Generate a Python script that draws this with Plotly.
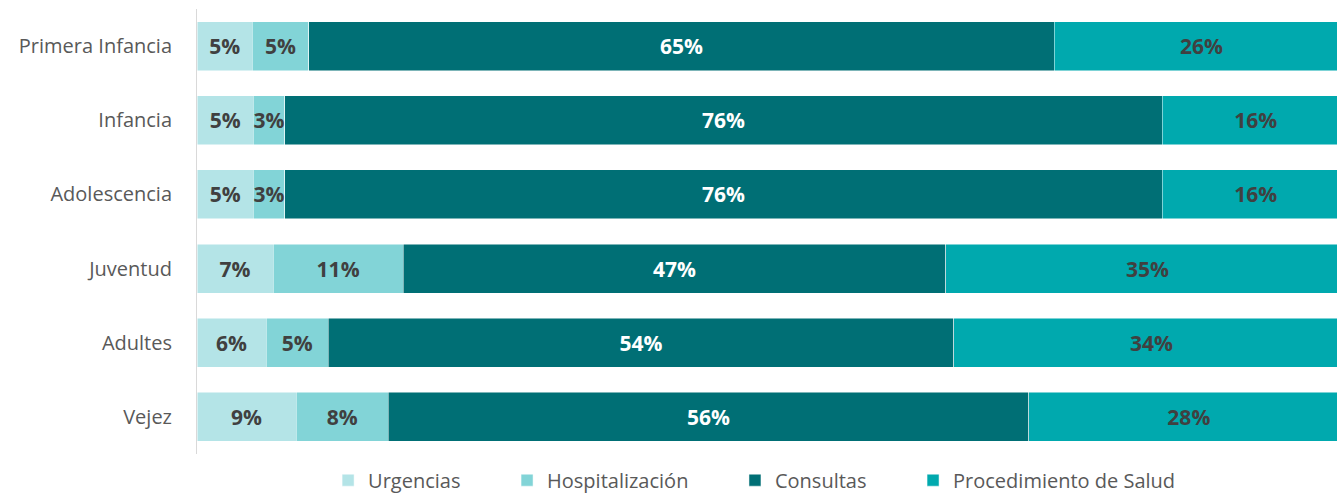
import plotly.graph_objects as go

categories = ["Primera Infancia", "Infancia", "Adolescencia", "Juventud", "Adultes", "Vejez"]
series_names = ["Urgencias", "Hospitalización", "Consultas", "Procedimiento de Salud"]
urgencias = [0.048, 0.049, 0.049, 0.066, 0.060, 0.086]
hospitalizacion = [0.049, 0.027, 0.027, 0.113, 0.054, 0.080]
consultas = [0.647, 0.762, 0.762, 0.471, 0.543, 0.556]
procedimiento = [0.256, 0.162, 0.162, 0.350, 0.343, 0.278]

colors = ["#B4E4E7", "#82D4D7", "#006F75", "#00A9AE"]
text_colors = ["#404040", "#404040", "#FFFFFF", "#404040"]
series_values = [urgencias, hospitalizacion, consultas, procedimiento]

FONT = "Open Sans"
PAD = "\u00a0" * 8

fig = go.Figure()
for i, (name, vals) in enumerate(zip(series_names, series_values)):
    fig.add_trace(go.Bar(
        y=categories, x=vals, orientation="h",
        name=name + (PAD if i < 3 else ""),
        marker=dict(color=colors[i], line=dict(color="rgba(255,255,255,0.7)", width=0.7)),
        texttemplate="%{x:.0%}",
        textposition="inside", insidetextanchor="middle", textangle=0,
        constraintext="none",
        textfont=dict(family=FONT, size=21, color=text_colors[i], weight="bold"),
        hoverinfo="skip",
    ))

fig.update_layout(
    barmode="stack",
    bargap=0.34,
    width=1337, height=497,
    margin=dict(l=197, r=0, t=9, b=43, autoexpand=False),
    paper_bgcolor="white", plot_bgcolor="white",
    font=dict(family=FONT, color="#595959", size=20),
    showlegend=True,
    legend=dict(orientation="h", x=0.115, xanchor="left", y=-0.015, yanchor="top",
                font=dict(family=FONT, size=20, color="#595959"),
                traceorder="normal", itemclick=False),
)
fig.update_xaxes(range=[0, 1140 / 1152], visible=False, showgrid=False, zeroline=False, fixedrange=True)
fig.update_yaxes(autorange="reversed", showline=True, linecolor="#D9D9D9", linewidth=1,
                 showgrid=False, ticks="", ticklabelstandoff=20,
                 tickfont=dict(family=FONT, size=20, color="#595959"), fixedrange=True)

fig.write_html("out.html", config={"displayModeBar": False},
               post_script="document.body.style.margin='0px';document.body.style.overflow='hidden';")
